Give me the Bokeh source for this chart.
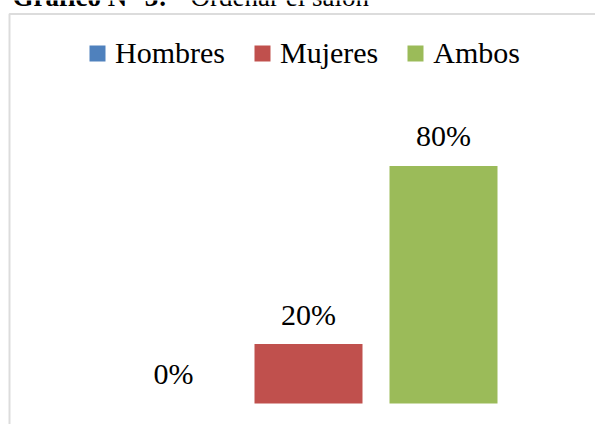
from bokeh.plotting import figure
from bokeh.models import ColumnDataSource, Range1d, Label, BoxAnnotation
from bokeh.embed import file_html
from bokeh.resources import INLINE

categories = ["Hombres", "Mujeres", "Ambos"]
values = [0, 20, 80]
value_labels = ["0%", "20%", "80%"]
colors = ["#4F81BD", "#C0504D", "#9BBB59"]

FONT = "'Liberation Serif', 'Times New Roman', serif"

src = ColumnDataSource(dict(
    x=list(range(len(categories))),
    v=values,
    lab=value_labels,
    cat=categories,
    color=colors,
))

W, H = 595, 424
p = figure(width=W, height=H, output_backend="svg", toolbar_location=None,
           x_range=Range1d(-173 / 135, (W - 173) / 135),
           y_range=Range1d(-(H - 403) / 2.97, 403 / 2.97),
           min_border=0, outline_line_color=None)
p.axis.visible = False
p.grid.visible = False
p.background_fill_color = "white"
p.border_fill_color = "white"

p.vbar(x="x", top="v", width=0.8, fill_color="color", line_color=None,
       legend_field="cat", source=src)
p.text(x="x", y="v", text="lab", source=src, text_align="center",
       text_baseline="alphabetic", y_offset=-30,
       text_font=FONT, text_font_size="30px", text_color="black")

# chart border (top and left edges visible)
p.add_layout(BoxAnnotation(left=(9 - 173) / 135, right=20,
                           top=(403 - 13.5) / 2.97, bottom=-100,
                           fill_color=None, line_color="#8c8c8c", line_width=2))

leg = p.legend[0]
leg.orientation = "horizontal"
leg.location = (87, 424 - 70)
leg.glyph_width = 20
leg.glyph_height = 20
leg.label_standoff = 8
leg.spacing = 27
leg.padding = 0
leg.margin = 0
leg.border_line_color = None
leg.background_fill_alpha = 0
leg.label_text_font = FONT
leg.label_text_font_size = "30px"
leg.label_text_color = "black"

p.add_layout(Label(x=12, y=H + 4, x_units="screen", y_units="screen",
                   text="Gráfico N° 3:", text_font=FONT,
                   text_font_style="bold", text_font_size="27px",
                   text_baseline="alphabetic", text_color="black"))
p.add_layout(Label(x=190, y=H + 4, x_units="screen", y_units="screen",
                   text="Ordenar el salón", text_font=FONT,
                   text_font_size="27px", text_baseline="alphabetic",
                   text_color="black"))

open("out.html", "w").write(file_html(p, INLINE))
